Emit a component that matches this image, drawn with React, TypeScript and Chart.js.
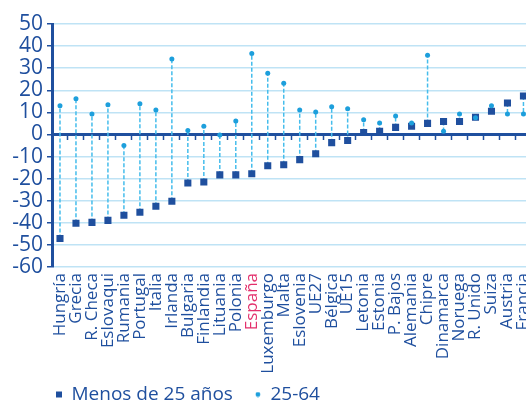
import React, { useEffect, useRef } from 'react';
import { Chart, registerables } from 'chart.js';

Chart.register(...registerables);

const categories = ['Hungría', 'Grecia', 'R. Checa', 'Eslovaqui', 'Rumania', 'Portugal', 'Italia', 'Irlanda', 'Bulgaria', 'Finlandia', 'Lituania', 'Polonia', 'España', 'Luxemburgo', 'Malta', 'Eslovenia', 'UE27', 'Bélgica', 'UE15', 'Letonia', 'Estonia', 'P. Bajos', 'Alemania', 'Chipre', 'Dinamarca', 'Noruega', 'R. Unido', 'Suiza', 'Austria', 'Francia'];
const under25 = [-47.1, -40.2, -39.8, -38.9, -36.6, -35.2, -32.5, -30.2, -22.0, -21.5, -18.3, -18.3, -17.8, -14.2, -13.7, -11.4, -8.7, -3.7, -2.7, 0.9, 1.4, 3.2, 3.7, 5.0, 5.9, 5.9, 7.8, 10.5, 14.2, 17.4];
const age25to64 = [13.0, 16.2, 9.3, 13.4, -5.0, 13.9, 11.1, 34.1, 1.8, 3.7, -0.3, 6.1, 36.6, 27.7, 23.2, 11.1, 10.2, 12.5, 11.6, 6.6, 5.2, 8.4, 5.2, 35.8, 1.5, 9.3, 7.6, 13.0, 9.3, 9.3];
const seriesLabels = ['Menos de 25 años', '25-64'];
const highlighted = 'España';

const DARK = '#1f4f9e';
const LIGHT = '#1d9fdc';
const DASH = '#45bdec';
const GRID = '#bfe3f5';
const RED = '#e3306c';
const FONT = '"Open Sans", "Noto Sans", sans-serif';

const legendShift = {
  id: 'legendShift',
  afterLayout(chart: any) {
    const lg = chart.legend;
    if (!lg) return;
    lg.left += 34;
    lg.top -= 14;
    lg.bottom -= 14;
  },
};

export default function App() {
  const ref = useRef<HTMLCanvasElement>(null);

  useEffect(() => {
    if (!ref.current) return;
    const dot = document.createElement('canvas');
    dot.width = 6;
    dot.height = 6;
    const dctx = dot.getContext('2d');
    if (dctx) {
      dctx.fillStyle = LIGHT;
      dctx.beginPath();
      dctx.arc(3, 3, 2.4, 0, Math.PI * 2);
      dctx.fill();
    }

    const links: any[] = [];
    categories.forEach((c, i) => {
      links.push({ x: c, y: under25[i] }, { x: c, y: age25to64[i] }, { x: c, y: null });
    });

    const chart = new Chart(ref.current, {
      type: 'line',
      data: {
        labels: categories,
        datasets: [
          {
            label: seriesLabels[0],
            data: under25,
            showLine: false,
            pointStyle: 'rect',
            pointRadius: 5,
            pointHoverRadius: 5,
            backgroundColor: DARK,
            borderColor: DARK,
            borderWidth: 0,
            order: 1,
          },
          {
            label: seriesLabels[1],
            data: age25to64,
            showLine: false,
            pointStyle: 'circle',
            pointRadius: 2.5,
            pointHoverRadius: 2.5,
            backgroundColor: LIGHT,
            borderColor: LIGHT,
            borderWidth: 0,
            order: 0,
          },
          {
            label: 'links',
            data: links as any,
            showLine: true,
            pointRadius: 0,
            borderColor: DASH,
            borderWidth: 1.5,
            borderDash: [4, 2],
            spanGaps: false,
            fill: false,
            order: 2,
          },
        ],
      },
      plugins: [legendShift],
      options: {
        responsive: false,
        animation: false,
        events: [],
        layout: { padding: { left: 0, right: 9, top: 24, bottom: 0 } },
        plugins: {
          tooltip: { enabled: false },
          legend: {
            position: 'bottom',
            align: 'start',
            labels: {
              usePointStyle: true,
              boxWidth: 6,
              boxHeight: 6,
              padding: 22,
              color: DARK,
              font: { family: FONT, size: 19 },
              generateLabels: (ch: any) => {
                const items = (Chart.defaults.plugins.legend.labels as any)
                  .generateLabels(ch)
                  .filter((it: any) => it.datasetIndex !== 2)
                  .sort((a: any, b: any) => a.datasetIndex - b.datasetIndex);
                items.forEach((it: any) => {
                  it.lineWidth = 0;
                  it.fontColor = DARK;
                  if (it.datasetIndex === 1) it.pointStyle = dot;
                });
                return items;
              },
            },
          },
        },
        scales: {
          x: {
            type: 'category',
            offset: true,
            grid: { display: false, drawTicks: false },
            border: { display: false },
            ticks: {
              autoSkip: false,
              maxRotation: 90,
              minRotation: 90,
              padding: 6,
              font: { family: FONT, size: 17 },
              color: (ctx: any) => (categories[ctx.index] === highlighted ? RED : DARK),
            },
            afterFit: (s: any) => {
              s.height = 110;
            },
          },
          x2: {
            type: 'category',
            position: { y: 0 } as any,
            offset: true,
            grid: {
              display: true,
              drawOnChartArea: false,
              drawTicks: true,
              tickLength: 4,
              tickColor: DARK,
              tickWidth: 1.5,
              offset: true,
            },
            border: { display: true, color: DARK, width: 3 },
            ticks: { display: false },
          },
          y: {
            min: -60,
            max: 50,
            ticks: {
              stepSize: 10,
              autoSkip: false,
              maxTicksLimit: 20,
              padding: 4,
              color: DARK,
              font: { family: FONT, size: 21, lineHeight: 1 },
            },
            grid: { color: GRID, lineWidth: 1.5, tickLength: 5, tickColor: DARK, tickWidth: 1.5 },
            border: { color: DARK, width: 3 },
            afterFit: (s: any) => {
              s.width = 52;
            },
          },
        },
      } as any,
    });
    return () => chart.destroy();
  }, []);

  return (
    <div style={{ position: 'fixed', left: 0, top: 0, width: 526, height: 403, overflow: 'hidden', background: '#fff' }}>
      <canvas ref={ref} width={550} height={428} style={{ display: 'block' }} />
    </div>
  );
}
